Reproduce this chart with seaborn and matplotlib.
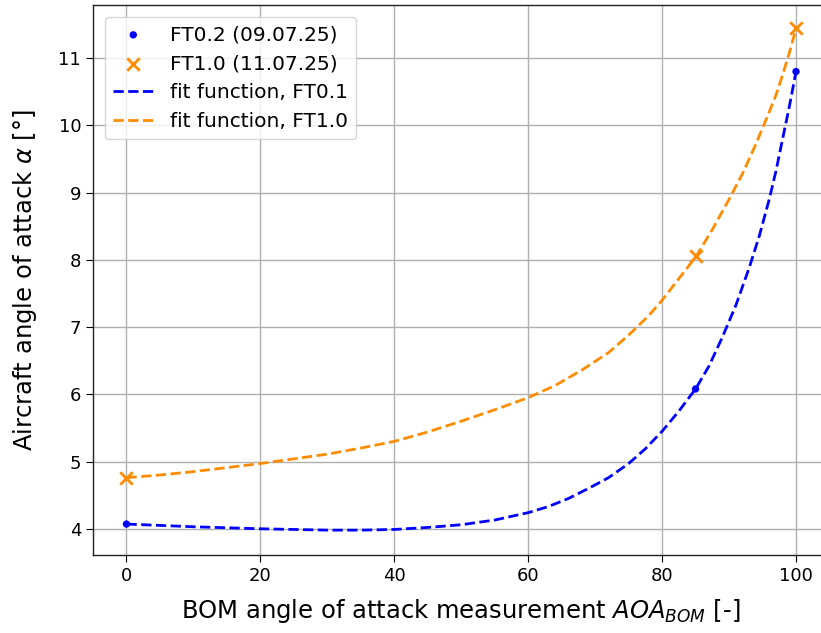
import matplotlib
matplotlib.use("Agg")
import matplotlib.pyplot as plt
import seaborn as sns

# measured points
ft02_x = [0, 85, 100]
ft02_y = [4.07, 6.08, 10.80]
ft10_x = [0, 85, 100]
ft10_y = [4.75, 8.05, 11.45]

# fit curves
fit01_x = [0, 5, 10, 15, 20, 25, 30, 35, 40, 45, 50, 55, 60, 63, 66, 69, 72, 75,
           77.5, 80, 82.5, 85, 87, 89, 91, 93, 94.5, 96, 97, 98, 99, 100]
fit01_y = [4.07, 4.05, 4.03, 4.015, 4.00, 3.99, 3.98, 3.98, 3.99, 4.02, 4.06, 4.13,
           4.24, 4.33, 4.45, 4.60, 4.76, 4.97, 5.19, 5.45, 5.75, 6.08, 6.42, 6.85,
           7.32, 7.88, 8.35, 8.90, 9.32, 9.80, 10.28, 10.80]
fit10_x = [0, 5, 10, 15, 20, 25, 30, 35, 40, 45, 50, 55, 60, 64, 68, 72, 75, 78,
           80, 82.5, 85, 87.5, 90, 92, 94, 96, 97, 98, 99, 100]
fit10_y = [4.76, 4.80, 4.85, 4.91, 4.97, 5.04, 5.11, 5.20, 5.30, 5.44, 5.60, 5.77,
           5.95, 6.13, 6.36, 6.62, 6.88, 7.17, 7.40, 7.72, 8.04, 8.45, 8.90, 9.28,
           9.72, 10.20, 10.45, 10.75, 11.08, 11.44]

labels = ["FT0.2 (09.07.25)", "FT1.0 (11.07.25)",
          "fit function, FT0.1", "fit function, FT1.0"]

blue = "#0000ff"
orange = "#ff8c00"

fig = plt.figure(figsize=(8.21, 6.33), dpi=100)
ax = fig.add_axes([93 / 821, 1 - 555 / 633, 736.5 / 821, 550 / 633])

sns.scatterplot(x=ft02_x, y=ft02_y, ax=ax, color=blue, marker="o", s=28,
                edgecolor="none", label=labels[0], zorder=3)
sns.scatterplot(x=ft10_x, y=ft10_y, ax=ax, color=orange, marker="x", s=80,
                linewidth=2, label=labels[1], zorder=3)
sns.lineplot(x=fit01_x, y=fit01_y, ax=ax, color=blue, linestyle="--", lw=2,
             sort=False, estimator=None, label=labels[2])
sns.lineplot(x=fit10_x, y=fit10_y, ax=ax, color=orange, linestyle="--", lw=2,
             sort=False, estimator=None, label=labels[3])

ax.set_xlim(-5, 105)
ax.set_ylim(3.61, 11.79)
ax.set_xticks([0, 20, 40, 60, 80, 100])
ax.set_yticks([4, 5, 6, 7, 8, 9, 10, 11])
ax.grid(True, color="#b0b0b0", lw=1.0)
ax.set_axisbelow(True)
ax.tick_params(labelsize=13, length=5)
for s in ax.spines.values():
    s.set_color("#222222")
    s.set_linewidth(1.0)
ax.spines["right"].set_visible(False)

ax.set_xlabel(r"BOM angle of attack measurement $AOA_{BOM}$ [-]", fontsize=17.5,
              labelpad=9)
ax.set_ylabel(r"Aircraft angle of attack $\alpha$ [°]", fontsize=17.5,
              labelpad=14)

ax.legend(loc="upper left", fontsize=14.5, framealpha=0.8, borderaxespad=0.6)

fig.savefig("out.png", dpi=100)
